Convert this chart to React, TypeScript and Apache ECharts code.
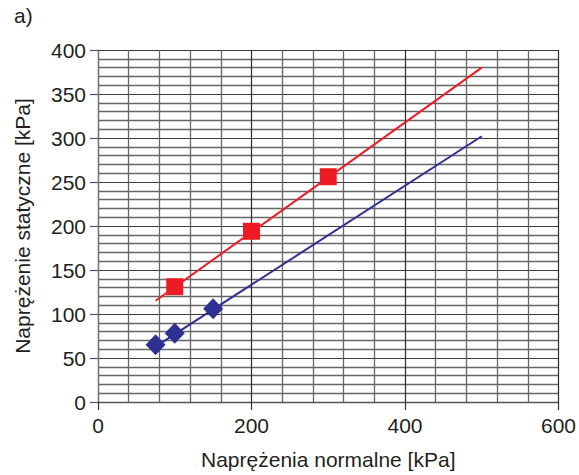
import React, { useEffect, useRef } from "react";
import * as echarts from "echarts";

const blueData: [number, number][] = [
  [75, 65],
  [100, 78],
  [150, 106],
];
const redData: [number, number][] = [
  [100, 131],
  [200, 194],
  [300, 256],
];
const blueTrend: [number, number][] = [
  [75, 63],
  [500, 302],
];
const redTrend: [number, number][] = [
  [75, 115],
  [500, 380],
];
const xAxisName = "Naprężenia normalne [kPa]";
const yAxisName = "Naprężenie statyczne [kPa]";
const panelLabel = "a)";

const RED = "#ed1c24";
const BLUE = "#2e3192";
const TEXT = "#231f20";
const FONT = "'Liberation Sans', Arial, sans-serif";
const FS = 21;

export default function App() {
  const ref = useRef<HTMLDivElement>(null);
  useEffect(() => {
    if (!ref.current) return;
    const chart = echarts.init(ref.current, undefined, { renderer: "svg" });
    chart.setOption({
      animation: false,
      backgroundColor: "#ffffff",
      textStyle: { fontFamily: FONT },
      title: {
        text: panelLabel,
        left: 9,
        top: 0,
        textStyle: { fontSize: FS, fontWeight: "normal", color: TEXT, fontFamily: FONT },
      },
      grid: { left: 98, right: 16, top: 50, bottom: 72, containLabel: false },
      xAxis: {
        type: "value",
        min: 0,
        max: 600,
        interval: 200,
        name: xAxisName,
        nameLocation: "middle",
        nameGap: 47,
        nameTextStyle: { fontSize: FS, color: TEXT, fontFamily: FONT },
        axisLine: { show: true, onZero: false, lineStyle: { color: "#555", width: 1.3 } },
        axisTick: { show: true, length: 8, inside: false, lineStyle: { color: "#333", width: 1.2 } },
        axisLabel: { fontSize: FS, color: TEXT, margin: 13, fontFamily: FONT },
        splitLine: { show: true, lineStyle: { color: "#2a2a2a", width: 1.2 } },
        minorTick: { show: false, splitNumber: 5 },
        minorSplitLine: { show: true, lineStyle: { color: "#666", width: 1.3 } },
      },
      yAxis: {
        type: "value",
        min: 0,
        max: 400,
        interval: 50,
        name: yAxisName,
        nameLocation: "middle",
        nameGap: 65,
        nameRotate: 90,
        nameTextStyle: { fontSize: FS, color: TEXT, fontFamily: FONT },
        axisLine: { show: true, onZero: false, lineStyle: { color: "#777", width: 1.3 } },
        axisTick: { show: true, length: 8, inside: false, lineStyle: { color: "#555", width: 1.2 } },
        axisLabel: { fontSize: FS, color: TEXT, margin: 12, fontFamily: FONT },
        splitLine: { show: true, lineStyle: { color: "#3a3a3a", width: 1.2 } },
        minorTick: { show: false, splitNumber: 5 },
        minorSplitLine: { show: true, lineStyle: { color: "#666", width: 1.3 } },
      },
      series: [
        {
          type: "line",
          data: redTrend,
          showSymbol: false,
          symbol: "none",
          lineStyle: { color: RED, width: 2 },
          z: 3,
        },
        {
          type: "line",
          data: blueTrend,
          showSymbol: false,
          symbol: "none",
          lineStyle: { color: BLUE, width: 2 },
          z: 3,
        },
        {
          type: "scatter",
          data: redData,
          symbol: "rect",
          symbolSize: 17,
          itemStyle: { color: RED, opacity: 1 },
          z: 4,
        },
        {
          type: "scatter",
          data: blueData,
          symbol: "diamond",
          symbolSize: [20, 21],
          itemStyle: { color: BLUE, opacity: 1 },
          z: 4,
        },
      ],
    });
    return () => chart.dispose();
  }, []);
  return (
    <div
      ref={ref}
      style={{ position: "fixed", left: 0, top: 0, width: 579, height: 475 }}
    />
  );
}
